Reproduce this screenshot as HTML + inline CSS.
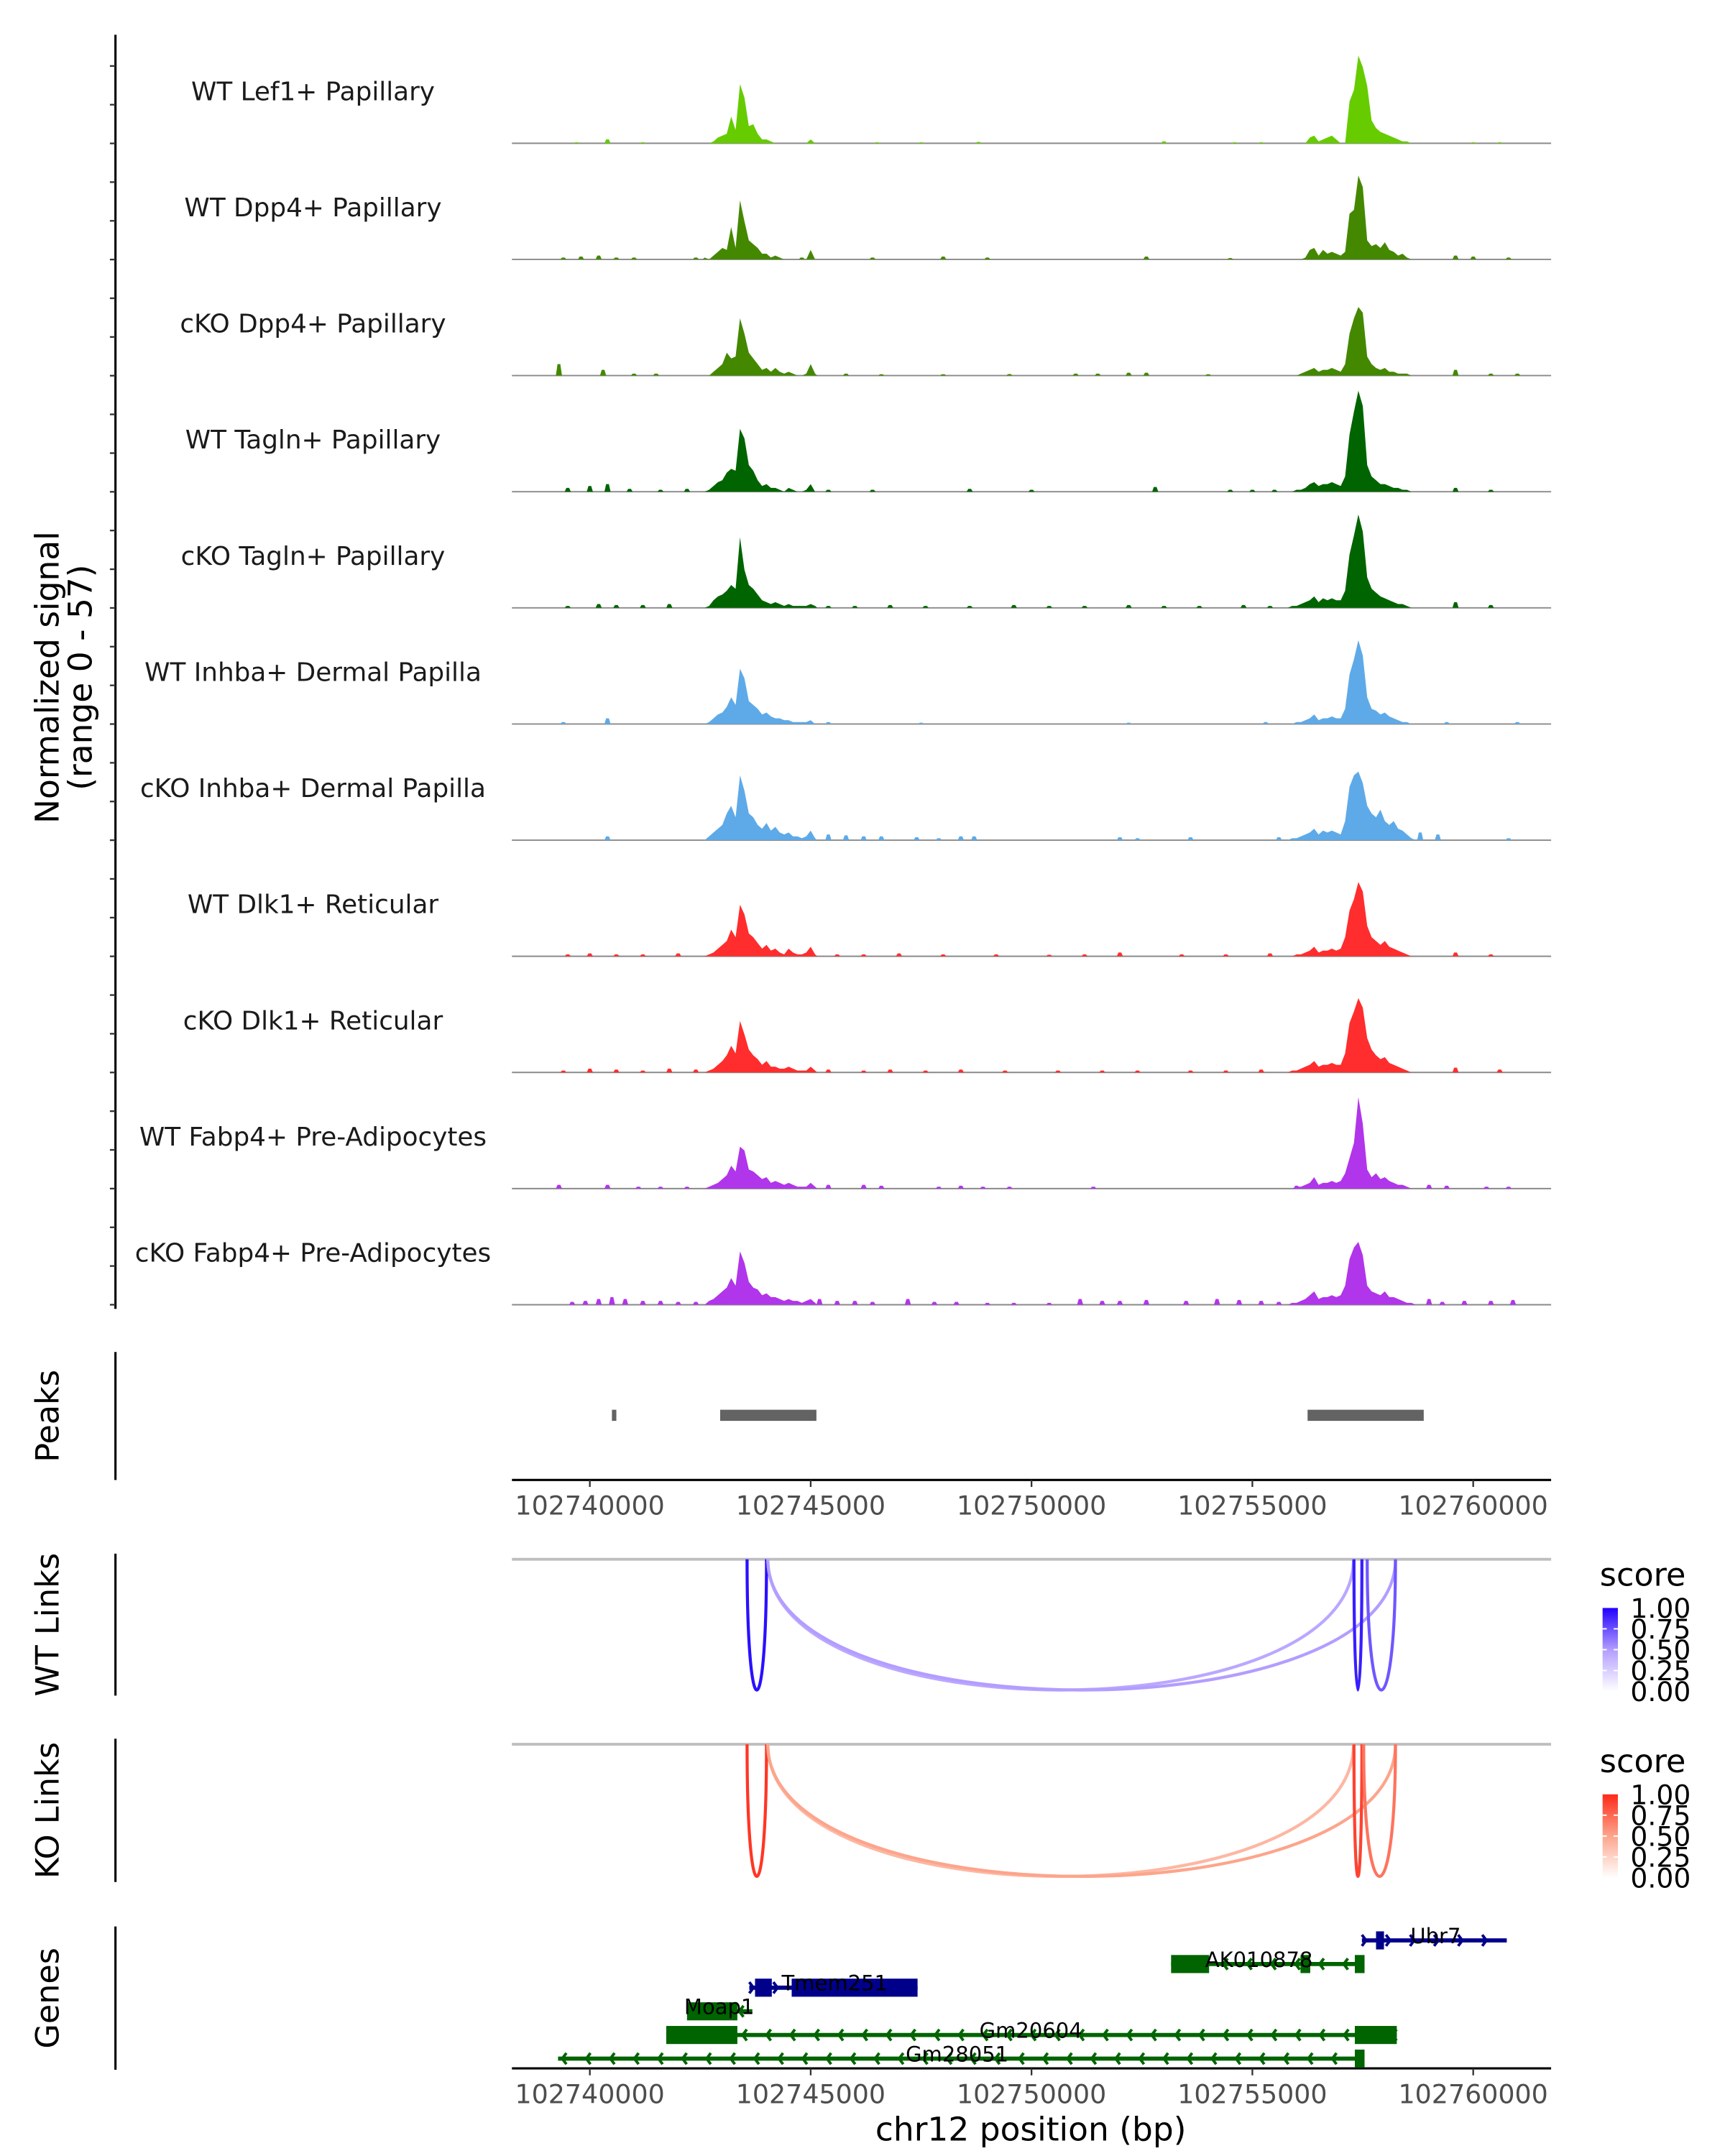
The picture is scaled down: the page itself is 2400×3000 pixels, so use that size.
<!DOCTYPE html>
<html><head><meta charset="utf-8"><style>
html,body{margin:0;padding:0;background:#fff}
svg{display:block}
text{font-family:"DejaVu Sans","Liberation Sans",sans-serif}
</style></head><body>
<svg id="chart" xmlns="http://www.w3.org/2000/svg" width="2400" height="3000" viewBox="0 0 1240 1550">
<defs>
<linearGradient id="gBlue" x1="0" y1="1" x2="0" y2="0"><stop offset="0" stop-color="#ffffff"/><stop offset="0.5" stop-color="#b39dff"/><stop offset="1" stop-color="#2200ff"/></linearGradient>
<linearGradient id="gRed" x1="0" y1="1" x2="0" y2="0"><stop offset="0" stop-color="#ffffff"/><stop offset="0.5" stop-color="#fca58c"/><stop offset="1" stop-color="#ff2a1a"/></linearGradient>
</defs>
<g id="root"></g>
</svg>
<script>
// ---------- data ----------
const trackNames = ["WT Lef1+ Papillary","WT Dpp4+ Papillary","cKO Dpp4+ Papillary","WT Tagln+ Papillary","cKO Tagln+ Papillary","WT Inhba+ Dermal Papilla","cKO Inhba+ Dermal Papilla","WT Dlk1+ Reticular","cKO Dlk1+ Reticular","WT Fabp4+ Pre-Adipocytes","cKO Fabp4+ Pre-Adipocytes"];
const trackColors = ["#66cc00","#448800","#448800","#006400","#006400","#5eaae8","#5eaae8","#ff2d2d","#ff2d2d","#b135ea","#b135ea"];
const clusterAStart = 102742.6; // kb, 100bp bins
const clusterBStart = 102755.8;
const clusterA = [
[0,0,1,3,4,5,14,7,31,24,9,10,5,2,2,1,0,0,0,0,0,0,0,0,2,0],
[1,0,2,4,6,5,17,6,31,20,10,8,6,3,3,1,2,1,0,0,0,0,0,0,5,0],
[0,0,2,4,6,12,9,10,30,22,12,9,6,3,4,2,4,2,1,2,1,0,0,1,6,1],
[0,1,3,5,6,10,12,11,33,28,14,11,6,3,4,2,2,1,0,2,1,0,0,1,4,0],
[0,1,4,6,7,9,12,10,37,20,12,10,7,4,3,2,3,2,1,2,1,1,1,1,2,1],
[0,1,3,5,6,9,14,10,29,24,12,10,8,5,6,4,3,3,2,2,1,1,1,1,2,0],
[0,2,4,6,8,14,18,12,34,26,14,12,8,6,9,5,7,4,3,4,2,2,1,2,5,1],
[0,1,2,4,6,8,14,10,27,22,12,10,7,4,6,3,4,2,1,4,2,1,1,2,5,1],
[0,1,2,4,6,9,14,10,27,20,12,9,7,4,6,3,3,2,2,3,2,1,1,1,3,1],
[0,1,2,3,5,7,12,9,22,20,10,9,7,5,6,3,4,3,2,3,2,1,1,1,3,1],
[0,2,3,5,7,9,14,10,28,22,12,9,8,5,6,4,4,3,2,3,2,2,1,2,3,1]];
const clusterB = [
[0,0,0,0,0,3,4,1,2,3,4,2,0,0,22,28,46,40,30,12,8,6,5,4,3,2,1,1,0,0],
[0,0,0,0,1,5,6,2,5,3,4,3,2,4,24,26,44,38,10,7,8,6,9,5,4,2,3,1,0,0],
[0,0,0,1,2,3,4,2,3,3,4,3,2,6,22,30,36,33,10,6,4,3,4,2,2,1,1,1,0,0],
[0,0,1,1,2,4,5,3,4,4,5,4,3,8,30,42,53,45,14,8,6,4,4,3,2,2,1,1,0,0],
[0,1,1,2,3,4,6,3,5,4,5,4,4,9,28,38,49,40,16,10,8,6,5,4,3,2,2,1,0,0],
[0,0,1,1,2,3,5,2,3,3,4,3,3,8,26,34,44,36,14,8,7,5,6,4,3,2,1,1,0,0],
[0,1,1,2,3,4,6,3,5,4,5,4,3,10,28,34,36,30,18,14,12,16,10,8,10,6,5,3,1,0],
[0,0,1,1,2,3,5,2,3,3,4,3,4,10,24,30,39,34,16,10,8,6,8,5,4,3,2,1,0,0],
[0,1,1,2,3,4,6,3,4,4,5,4,4,10,26,32,39,34,18,12,9,7,8,5,4,3,2,1,0,0],
[0,0,1,1,2,3,6,2,3,3,4,3,4,8,16,24,48,34,10,6,8,5,6,4,3,2,2,1,0,0],
[0,1,1,2,3,5,7,3,4,4,5,4,5,10,24,30,33,26,10,7,6,5,7,4,4,3,2,1,1,0]];
const bumps = [
[[102739.7,0.5],[102740.4,2],[102741.2,0.5],[102746.5,0.5],[102747.5,0.5],[102748.8,0.7],[102753.0,1],[102754.6,0.5],[102755.2,0.5],[102760.0,0.5],[102760.6,0.5]],
[[102739.4,1],[102739.8,1.5],[102740.2,2],[102740.6,1],[102741.0,1],[102742.4,1],[102744.8,1],[102746.4,1],[102748.0,1.5],[102749.0,1],[102752.6,1.5],[102754.5,0.7],[102759.6,2],[102760.0,1.5],[102760.8,1]],
[[102739.3,6],[102740.3,3],[102741.0,1],[102741.5,1],[102745.8,1],[102746.6,0.7],[102748.0,0.7],[102749.5,0.8],[102751.0,1],[102751.5,1],[102752.2,1.5],[102752.6,1.5],[102754.0,0.7],[102759.6,3],[102760.4,1],[102761.0,1]],
[[102739.5,2],[102740.0,3],[102740.4,4],[102740.9,1.5],[102741.6,1],[102742.2,1.5],[102745.4,1],[102746.4,1],[102748.6,1.5],[102750.0,1],[102752.8,2.5],[102754.5,1],[102755.0,1],[102755.5,1],[102759.6,2],[102760.4,1]],
[[102739.5,1],[102740.2,2],[102740.6,1.5],[102741.2,1.5],[102741.8,2],[102745.4,1],[102746.0,1],[102746.8,1.5],[102747.6,1],[102748.6,1],[102749.6,1.5],[102750.4,1],[102751.2,1],[102752.2,1.5],[102753.0,1],[102753.8,1],[102754.8,1.5],[102755.4,1],[102759.6,3],[102760.4,1.5]],
[[102739.4,1],[102740.4,3],[102745.4,1],[102747.5,0.7],[102752.2,0.7],[102755.3,1],[102759.4,1],[102761.0,1]],
[[102740.4,2],[102745.4,3],[102745.8,2.5],[102746.2,2],[102746.6,2],[102747.4,1.5],[102747.9,1],[102748.4,2],[102748.7,2],[102752.0,1.5],[102752.4,1],[102753.6,1.5],[102755.6,1.5],[102758.8,4],[102759.2,3],[102760.8,1]],
[[102739.5,1],[102740.0,1.5],[102740.6,1],[102741.2,1],[102742.0,1.5],[102745.6,1],[102746.2,1],[102747.0,1.5],[102748.0,1],[102749.2,1],[102750.4,0.8],[102751.2,1],[102752.0,2],[102753.4,1],[102754.4,1],[102755.4,1.5],[102759.6,2],[102760.4,1]],
[[102739.4,1],[102740.0,2],[102740.6,1.5],[102741.2,1],[102741.8,2],[102742.4,1.5],[102745.4,1.5],[102746.2,1],[102746.8,1.5],[102747.6,1],[102748.4,1.5],[102749.4,1],[102750.6,1],[102751.6,1],[102752.4,1],[102753.6,1],[102754.4,1],[102755.2,1.5],[102759.6,2.5],[102760.6,1.5]],
[[102739.3,2],[102740.4,2],[102741.1,1],[102741.6,1],[102742.2,1],[102745.4,2],[102746.2,2],[102746.6,1.5],[102747.9,1],[102748.4,1.5],[102748.9,1],[102749.5,1],[102751.4,1],[102756.0,1.5],[102759.0,2],[102759.4,1.5],[102760.3,1],[102760.8,1]],
[[102739.6,1.5],[102739.9,2],[102740.2,3],[102740.5,4],[102740.8,3],[102741.2,2],[102741.6,2],[102742.0,1.5],[102742.4,1.5],[102743.1,4],[102745.2,3],[102745.6,2],[102746.0,2],[102746.4,1.5],[102747.2,3],[102747.8,1.5],[102748.3,1.5],[102749.0,1],[102749.6,1],[102750.4,1],[102751.1,3],[102751.6,2],[102752.0,2],[102752.6,2.5],[102753.5,2],[102754.2,3],[102754.7,2.5],[102755.2,2],[102755.6,1.5],[102756.2,1],[102757.0,2],[102759.0,3],[102759.3,1.5],[102759.8,2],[102760.4,2],[102760.9,2.5]]];
const peakRegions = [[102740.5,102740.6],[102742.95,102745.13],[102756.25,102758.88]];
const xTicks = [102740000,102745000,102750000,102755000,102760000];
const linkScoreTicks = ["1.00","0.75","0.50","0.25","0.00"];
const wtLinks = [[102743.56,102744.0,1.0],[102744.03,102757.29,0.45],[102744.03,102758.24,0.5],[102757.3,102757.48,0.95],[102757.6,102758.24,0.75]];
const koLinks = [[102743.56,102744.0,0.95],[102744.03,102757.29,0.4],[102744.03,102758.24,0.5],[102757.3,102757.48,0.9],[102757.52,102758.24,0.7]];
const geneNames = ["Ubr7","AK010878","Tmem251","Moap1","Gm20604","Gm28051"];
const geneSpans = [[102757.48,102760.76],[102753.16,102757.54],[102743.61,102747.42],[102742.20,102743.68],[102741.73,102758.27],[102739.28,102757.54]];
const geneStrands = ["+","-","+","-","-","-"];
const geneExons = [[[102757.80,102757.98]],[[102753.16,102754.02],[102756.09,102756.31],[102757.32,102757.54]],[[102743.74,102744.12],[102744.57,102747.42]],[[102742.20,102743.34]],[[102741.73,102743.34],[102757.32,102758.27]],[[102757.32,102757.54]]];

// ---------- helpers ----------
const NS = "http://www.w3.org/2000/svg";
const root = document.getElementById("root");
function mk(tag, attrs, parent){const e=document.createElementNS(NS,tag);for(const k in attrs)e.setAttribute(k,attrs[k]);(parent||root).appendChild(e);return e;}
const X0 = 424, PXKB = 31.75;
function xs(kb){return X0+(kb-102740)*PXKB;}
const trackBase = i => 103 + i*83.5;
const YS = 1.37;

// ---------- left signal axis ----------
let ax = mk("line",{x1:83,y1:25,x2:83,y2:941,stroke:"#000","stroke-width":1.6});


for(let y=938; y>28; y-=27.83){
  const t=mk("line",{x1:79,y1:y,x2:83,y2:y,stroke:"#333","stroke-width":1.2});
  
  
}
let yt = mk("text",{transform:"translate(42,487) rotate(-90)","text-anchor":"middle","font-size":23.5,fill:"#000"});


mk("tspan",{x:0,dy:0},yt).textContent="Normalized signal";
mk("tspan",{x:0,dy:24},yt).textContent="(range 0 - 57)";

// ---------- signal tracks ----------
trackNames.forEach((name,i)=>{
  const b = trackBase(i);
  const g = mk("g",{});
  
  
  const lab = mk("text",{x:225,y:b-31,"text-anchor":"middle","font-size":18.5,fill:"#1a1a1a"},g);
  lab.textContent = name;
  
  
  mk("line",{x1:368,y1:b,x2:1115,y2:b,stroke:"#8a8a8a","stroke-width":1},g);
  [[clusterA[i],clusterAStart],[clusterB[i],clusterBStart]].forEach(([arr,st],ci)=>{
    let d = "M"+xs(st-0.05)+","+b;
    arr.forEach((v,j)=>{ d += " L"+xs(st+j*0.1).toFixed(2)+","+(b-v*YS).toFixed(2); });
    d += " L"+xs(st+(arr.length-1)*0.1+0.05)+","+b+" Z";
    const p = mk("path",{d:d,fill:trackColors[i]},g);
    
    
  });
  bumps[i].forEach(([kb,v])=>{
    const p = mk("path",{d:"M"+(xs(kb)-2.2)+","+b+" L"+(xs(kb)-1)+","+(b-v*YS)+" L"+(xs(kb)+1)+","+(b-v*YS)+" L"+(xs(kb)+2.2)+","+b+" Z",fill:trackColors[i]},g);
    
    
  });
});

// ---------- section labels & axes ----------
function sectionAxis(name,y1,y2,label){
  const l=mk("line",{x1:83,y1:y1,x2:83,y2:y2,stroke:"#000","stroke-width":1.6});
  
  
  const t=mk("text",{transform:"translate(42,"+((y1+y2)/2)+") rotate(-90)","text-anchor":"middle","font-size":23,fill:"#000"});
  t.textContent=label;
  
  
}
sectionAxis("peaks",972,1064,"Peaks");
sectionAxis("wt-links",1117,1219,"WT Links");
sectionAxis("ko-links",1250,1353,"KO Links");
sectionAxis("genes",1385,1488,"Genes");

// peaks
peakRegions.forEach(([s,e])=>{
  const r=mk("rect",{x:xs(s),y:1013.5,width:Math.max(xs(e)-xs(s),3),height:8,fill:"#636363"});
  
  
});

// x axes
function xAxis(y,name){
  const l=mk("line",{x1:368,y1:y,x2:1115,y2:y,stroke:"#000","stroke-width":1.6});
  
  
  xTicks.forEach(t=>{
    const x=xs(t/1000);
    mk("line",{x1:x,y1:y,x2:x,y2:y+5,stroke:"#333","stroke-width":1.2});
    const tl=mk("text",{x:x,y:y+25,"text-anchor":"middle","font-size":18.8,fill:"#4d4d4d"});
    tl.textContent=String(t);
    
    
  });
}
xAxis(1064,"peaks-x-axis");
xAxis(1487,"genes-x-axis");
let xt=mk("text",{x:741,y:1539,"text-anchor":"middle","font-size":23.5,fill:"#000"});
xt.textContent="chr12 position (bp)";



// ---------- links ----------
function hex(c){return [parseInt(c.slice(1,3),16),parseInt(c.slice(3,5),16),parseInt(c.slice(5,7),16)];}
function scoreColor(s,stops){
  const [a,m,z]=stops.map(hex);
  const mix=(p,q,t)=>p.map((v,k)=>Math.round(v+(q[k]-v)*t));
  const c = s<0.5? mix(a,m,s/0.5) : mix(m,z,(s-0.5)/0.5);
  return "rgb("+c.join(",")+")";
}
function drawLinks(links,top,bottom,stops,name){
  const gl=mk("line",{x1:368,y1:top,x2:1115,y2:top,stroke:"#bebebe","stroke-width":2});
  
  
  links.forEach(([s,e,sc])=>{
    const x1=xs(s),x2=xs(e),depth=bottom-top;
    const d="M"+x1+","+top+" C"+x1+","+(top+depth*1.333)+" "+x2+","+(top+depth*1.333)+" "+x2+","+top;
    const p=mk("path",{d:d,fill:"none",stroke:scoreColor(sc,stops),"stroke-width":2.2});
    
    
  });
}
drawLinks(wtLinks,1121,1215,["#ffffff","#b39dff","#2a10ff"],"wt-link");
drawLinks(koLinks,1254,1349,["#ffffff","#fca58c","#ff2a1a"],"ko-link");

function legend(y0,grad,name){
  const t=mk("text",{x:1150,y:y0,"font-size":23,fill:"#000"});
  t.textContent="score";
  
  
  const r=mk("rect",{x:1152,y:y0+16,width:11,height:60,fill:"url(#"+grad+")"});
  
  
  linkScoreTicks.forEach((lab,k)=>{
    const yy=y0+16+k*15;
    if(k>0&&k<4){mk("line",{x1:1152,y1:yy,x2:1155,y2:yy,stroke:"#fff"});mk("line",{x1:1160,y1:yy,x2:1163,y2:yy,stroke:"#fff"});}
    const tl=mk("text",{x:1172,y:yy+7,"font-size":19.5,fill:"#000"});
    tl.textContent=lab;
    
    
  });
}
legend(1140,"gBlue","wt");
legend(1274,"gRed","ko");

// ---------- genes ----------
const geneRowY=[1395,1412,1429,1446,1463,1480];
const geneLabelX=[1032,905,600,517,741,688];
geneNames.forEach((gname,i)=>{
  const y=geneRowY[i];
  const col = geneStrands[i]==="+"?"#00008b":"#006400";
  const g=mk("g",{});
  
  
  const [s,e]=geneSpans[i];
  mk("line",{x1:xs(s),y1:y,x2:xs(e),y2:y,stroke:col,"stroke-width":3},g);
  for(let x=xs(s)+3; x<xs(e)-2; x+=17.3){
    const d = geneStrands[i]==="+" ? "M"+(x-3)+","+(y-4)+" L"+x+","+y+" L"+(x-3)+","+(y+4) : "M"+(x+3)+","+(y-4)+" L"+x+","+y+" L"+(x+3)+","+(y+4);
    mk("path",{d:d,fill:"none",stroke:col,"stroke-width":2},g);
  }
  geneExons[i].forEach(([a,b])=>{
    const r=mk("rect",{x:xs(a),y:y-6.5,width:Math.max(xs(b)-xs(a),4),height:13,fill:col},g);
    
    
  });
  const t=mk("text",{x:geneLabelX[i],y:y+2,"text-anchor":"middle","font-size":15,fill:"#000"},g);
  t.textContent=gname;
  
  
});
</script>
</body></html>
